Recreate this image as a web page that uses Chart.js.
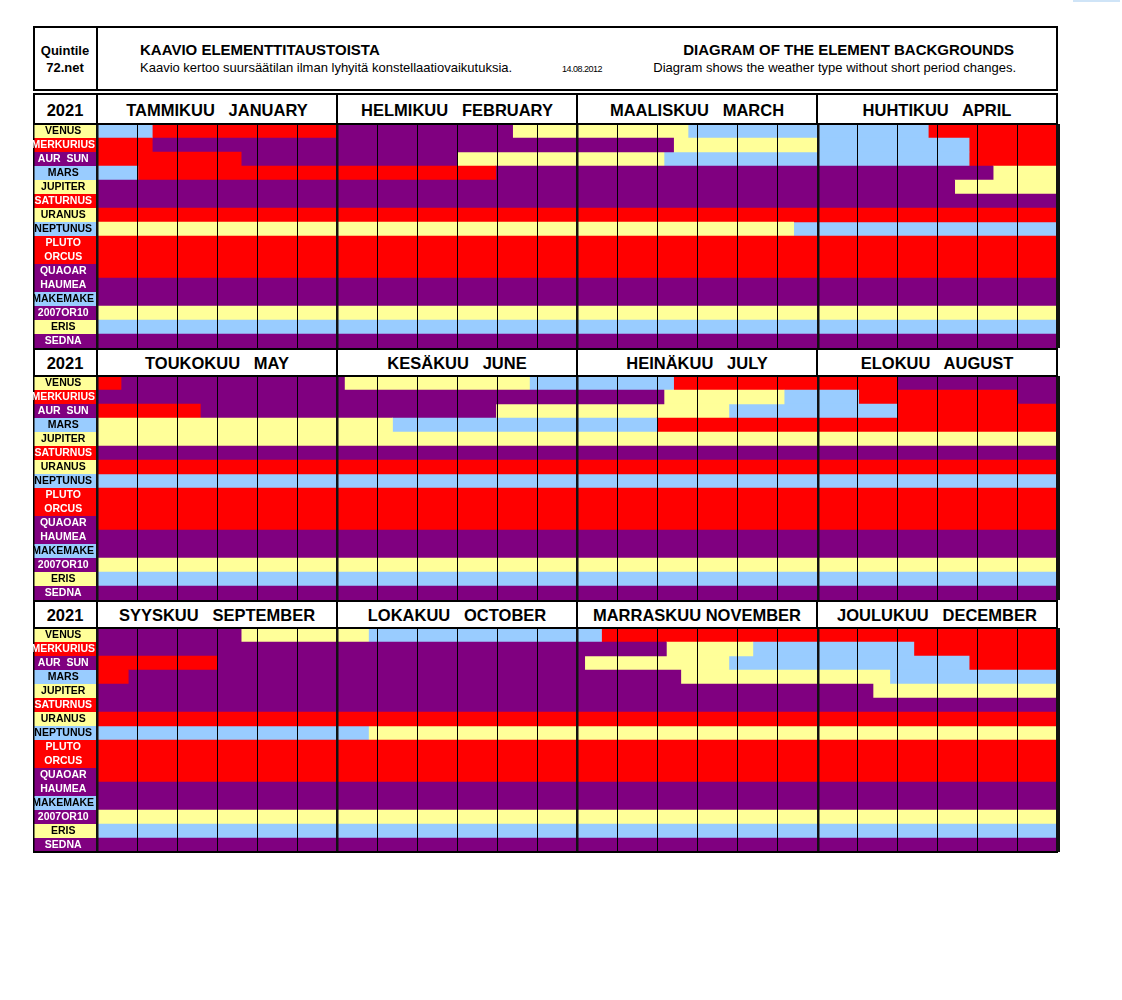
<!DOCTYPE html>
<html>
<head>
<meta charset="utf-8">
<script src="https://cdn.jsdelivr.net/npm/chart.js@4/dist/chart.umd.min.js"></script>
<style>
  body { margin: 0; background: #fff; font-family: "Liberation Sans", Arial, sans-serif; }
  canvas { position: absolute; }
  .abs { position: absolute; box-sizing: border-box; }
</style>
</head>
<body>
<script>
// [0] ELEMENT COLOURS
const ELEMENT_COLORS = { F: '#FF0000', E: '#FFFF99', A: '#99CCFF', W: '#800080' };
const TEXT_ON        = { F: '#FFFFFF', E: '#000000', A: '#000000', W: '#FFFFFF' };

// [1] ROW LABELS & LABEL CELL COLOURS
const PLANETS = ['VENUS', 'MERKURIUS', 'AUR  SUN', 'MARS', 'JUPITER', 'SATURNUS', 'URANUS', 'NEPTUNUS',
                 'PLUTO', 'ORCUS', 'QUAOAR', 'HAUMEA', 'MAKEMAKE', '2007OR10', 'ERIS', 'SEDNA'];
const LABEL_ELEMENTS = ['E', 'F', 'W', 'A', 'E', 'F', 'E', 'A', 'F', 'F', 'W', 'W', 'A', 'W', 'E', 'W'];

// [2] MONTH HEADERS
const YEAR = '2021';
const MONTHS = ['TAMMIKUU   JANUARY', 'HELMIKUU   FEBRUARY', 'MAALISKUU   MARCH', 'HUHTIKUU   APRIL',
                'TOUKOKUU   MAY', 'KESÄKUU   JUNE', 'HEINÄKUU   JULY', 'ELOKUU   AUGUST',
                'SYYSKUU   SEPTEMBER', 'LOKAKUU   OCTOBER', 'MARRASKUU NOVEMBER', 'JOULUKUU   DECEMBER'];

// [3] ELEMENT CHANGES PER ROW: [start (months from 1 Jan), element]
const VENUS     = [[0, 'A'], [0.23, 'F'], [1.0, 'W'], [1.73, 'E'], [2.46, 'A'], [3.46, 'F'], [4.10, 'W'],
                   [5.03, 'E'], [5.80, 'A'], [6.40, 'F'], [7.33, 'W'], [8.60, 'E'], [9.13, 'A'], [10.10, 'F']];
const MERKURIUS = [[0, 'F'], [0.23, 'W'], [2.40, 'E'], [3.0, 'A'], [3.63, 'F'], [4.0, 'W'], [6.36, 'E'],
                   [6.86, 'A'], [7.17, 'F'], [7.83, 'W'], [10.37, 'E'], [10.73, 'A'], [11.40, 'F']];
const AUR_SUN   = [[0, 'F'], [0.60, 'W'], [1.50, 'E'], [2.36, 'A'], [3.63, 'F'], [4.43, 'W'], [5.66, 'E'],
                   [6.63, 'A'], [7.33, 'F'], [8.50, 'W'], [10.03, 'E'], [10.63, 'A'], [11.63, 'F']];
const MARS      = [[0, 'A'], [0.17, 'F'], [1.66, 'W'], [3.73, 'E'], [5.23, 'A'], [6.33, 'F'], [8.13, 'W'],
                   [10.43, 'E'], [11.30, 'A']];
const JUPITER   = [[0, 'W'], [3.57, 'E'], [8.0, 'W'], [11.23, 'E']];
const SATURNUS  = [[0, 'W']];
const URANUS    = [[0, 'F']];
const NEPTUNUS  = [[0, 'E'], [2.90, 'A'], [9.13, 'E']];
const PLUTO     = [[0, 'F']];
const ORCUS     = [[0, 'F']];
const QUAOAR    = [[0, 'F']];
const HAUMEA    = [[0, 'W']];
const MAKEMAKE  = [[0, 'W']];
const OR10      = [[0, 'E']];
const ERIS      = [[0, 'A']];
const SEDNA     = [[0, 'W']];
const ROWS = [VENUS, MERKURIUS, AUR_SUN, MARS, JUPITER, SATURNUS, URANUS, NEPTUNUS,
              PLUTO, ORCUS, QUAOAR, HAUMEA, MAKEMAKE, OR10, ERIS, SEDNA];

// [4] LAYOUT HELPERS
function el(css, text) {
  const d = document.createElement('div');
  d.className = 'abs';
  d.style.cssText = css;
  if (text) d.textContent = text;
  document.body.appendChild(d);
  return d;
}
const FONT = '"Liberation Sans", Arial, sans-serif';

// top header box
el('left:33px;top:26px;width:1025px;height:65px;border:2px solid #000;');
el('left:96px;top:26px;width:2px;height:65px;background:#000;');
el(`left:33px;top:43px;width:64px;text-align:center;font:bold 13px ${FONT};line-height:16px;`, 'Quintile');
el(`left:33px;top:60px;width:64px;text-align:center;font:bold 13px ${FONT};line-height:16px;`, '72.net');
el(`left:140px;top:41px;font:bold 15px ${FONT};line-height:17px;white-space:nowrap;`, 'KAAVIO ELEMENTTITAUSTOISTA');
el(`left:140px;top:60px;font:13px ${FONT};line-height:15px;white-space:nowrap;`,
   'Kaavio kertoo suursäätilan ilman lyhyitä konstellaatiovaikutuksia.');
el(`left:562px;top:64px;font:9px ${FONT};line-height:10px;white-space:nowrap;letter-spacing:-0.5px;`, '14.08.2012');
el(`right:${1122 - 1014}px;top:41px;font:bold 15px ${FONT};line-height:17px;white-space:nowrap;`,
   'DIAGRAM OF THE ELEMENT BACKGROUNDS');
el(`right:${1122 - 1016}px;top:60px;font:13px ${FONT};line-height:15px;white-space:nowrap;`,
   'Diagram shows the weather type without short period changes.');
el('left:1073px;top:0;width:47px;height:2px;background:#cfe4f7;');

// [5] LABEL CELL PLUGIN
const labelCells = {
  id: 'labelCells',
  beforeDraw(chart) {
    const { ctx, chartArea, scales: { y } } = chart;
    const rowH = (chartArea.bottom - chartArea.top) / PLANETS.length;
    ctx.save();
    PLANETS.forEach((p, i) => {
      ctx.fillStyle = ELEMENT_COLORS[LABEL_ELEMENTS[i]];
      ctx.fillRect(1, y.getPixelForValue(i) - rowH / 2, chartArea.left - 2, rowH);
    });
    ctx.fillStyle = '#000';
    ctx.fillRect(0, chartArea.top, 1.5, chartArea.bottom - chartArea.top);
    ctx.restore();
  }
};

// [6] DATASETS (one dataset per segment slot, floating bars)
const SEGS = ROWS.map(ch => ch.map((c, k) => [c[0], k + 1 < ch.length ? ch[k + 1][0] : 12, c[1]]));
const MAX_SEG = Math.max(...SEGS.map(s => s.length));
function makeDatasets() {
  const ds = [];
  for (let k = 0; k < MAX_SEG; k++) {
    ds.push({
      data: SEGS.map(s => s[k] ? [s[k][0], s[k][1]] : null),
      backgroundColor: SEGS.map(s => s[k] ? ELEMENT_COLORS[s[k][2]] : 'rgba(0,0,0,0)'),
      borderWidth: 0,
      grouped: false,
      barPercentage: 1,
      categoryPercentage: 1
    });
  }
  return ds;
}

// [7] THREE BLOCKS OF FOUR MONTHS
for (let b = 0; b < 3; b++) {
  const rowsTop = 124 + 252 * b;
  const hTop = b === 0 ? 93 : rowsTop - 28;
  const hH = rowsTop - hTop + 1;

  const cv = document.createElement('canvas');
  cv.width = 1028; cv.height = 224;
  cv.style.left = '33px'; cv.style.top = rowsTop + 'px';
  document.body.appendChild(cv);

  // month header row
  el(`left:33px;top:${hTop}px;width:1025px;height:${hH}px;border:2px solid #000;background:#fff;`);
  [97, 337, 577, 817].forEach(x => el(`left:${x - 1}px;top:${hTop}px;width:2px;height:${hH}px;background:#000;`));
  const lh = hH - 2;
  el(`left:33px;top:${hTop + 2}px;width:64px;height:${lh}px;font:bold 16.5px ${FONT};line-height:${lh}px;text-align:center;`, YEAR);
  for (let m = 0; m < 4; m++) {
    el(`left:${97 + 240 * m}px;top:${hTop + 2}px;width:240px;height:${lh}px;font:bold 16.5px ${FONT};` +
       `line-height:${lh}px;text-align:center;white-space:pre;`, MONTHS[b * 4 + m]);
  }

  const x0 = b * 4;
  new Chart(cv.getContext('2d'), {
    type: 'bar',
    data: { labels: PLANETS, datasets: makeDatasets() },
    options: {
      indexAxis: 'y',
      responsive: false,
      animation: false,
      devicePixelRatio: 1,
      layout: { padding: { left: 0, right: 3, top: 0, bottom: 0 } },
      plugins: { legend: { display: false }, tooltip: { enabled: false } },
      scales: {
        x: {
          type: 'linear', min: x0, max: x0 + 4,
          afterBuildTicks: s => { s.ticks = Array.from({ length: 25 }, (_, i) => ({ value: x0 + i / 6 })); },
          ticks: { display: false },
          border: { display: false },
          grid: {
            z: 1, drawTicks: false,
            color: c => c.index % 6 === 0 ? '#111' : '#000',
            lineWidth: c => c.index === 24 ? 4 : (c.index % 6 === 0 ? 2.5 : 1)
          }
        },
        y: {
          type: 'category',
          grid: { display: false, drawTicks: false },
          border: { display: false },
          ticks: {
            crossAlign: 'center', padding: 2, autoSkip: false,
            font: { family: FONT, size: 10.5, weight: 'bold' },
            color: c => TEXT_ON[LABEL_ELEMENTS[c.index]]
          },
          afterFit: s => { s.width = 64; s.paddingTop = 0; s.paddingBottom = 0; }
        }
      }
    },
    plugins: [labelCells]
  });
}
// bottom border
el('left:33px;top:851px;width:1025px;height:2px;background:#000;');
</script>
</body>
</html>
